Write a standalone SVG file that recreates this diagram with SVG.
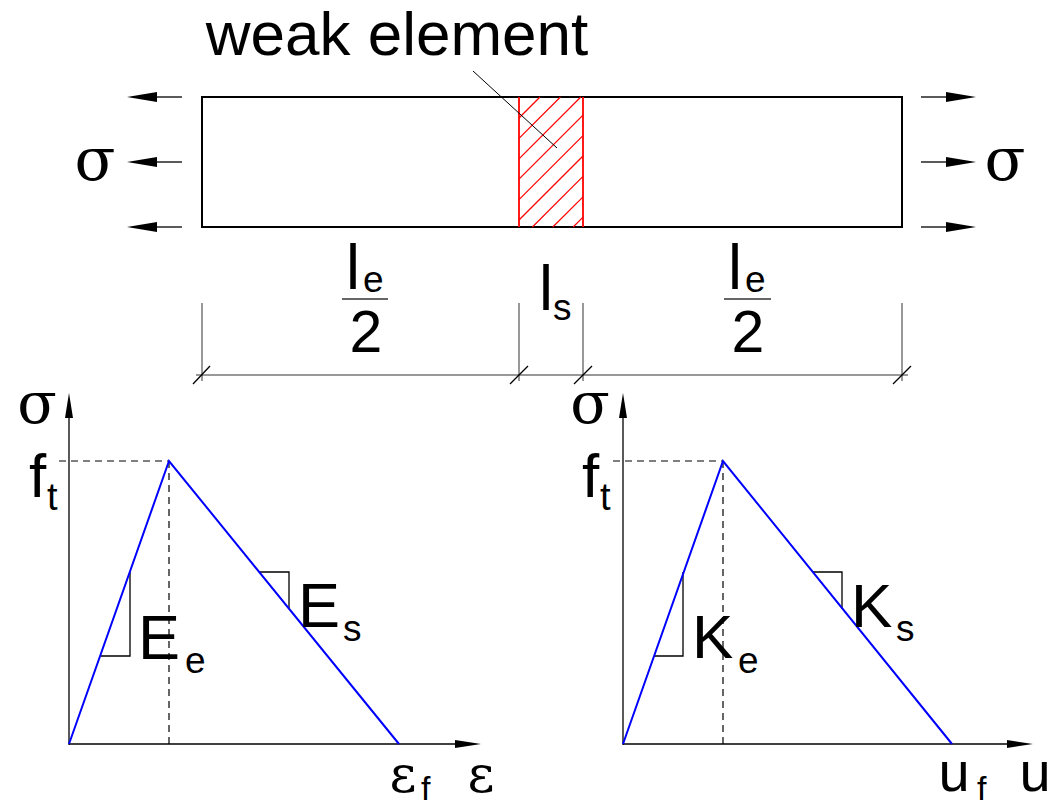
<svg xmlns="http://www.w3.org/2000/svg" width="1055" height="808" viewBox="0 0 1055 808">
<style>
.t{font-family:"Liberation Sans",Arial,sans-serif;fill:#000}
.g{font-family:"DejaVu Serif","Liberation Serif",serif;fill:#000}
.ln{stroke:#000;stroke-width:1.3;fill:none}
.thin{stroke:#333;stroke-width:1;fill:none}
.dash{stroke:#000;stroke-width:1.2;stroke-dasharray:7 5;fill:none}
.blue{stroke:#0000ff;stroke-width:2;fill:none}
.hatch{stroke:#ff0000;stroke-width:1.2;fill:none}
.ah{fill:#000;stroke:none}
</style>
<rect width="1055" height="808" fill="#fff"/>

<g id="bar">
  <rect x="202" y="97" width="700" height="130" fill="none" stroke="#000" stroke-width="2"/>
</g>

<g id="weak-element">
  <g class="hatch">
    <line x1="519" y1="118" x2="540" y2="97"/>
    <line x1="519" y1="138.4" x2="560.4" y2="97"/>
    <line x1="519" y1="158.8" x2="580.8" y2="97"/>
    <line x1="519" y1="179.2" x2="583" y2="115.2"/>
    <line x1="519" y1="199.6" x2="583" y2="135.6"/>
    <line x1="519" y1="220" x2="583" y2="156"/>
    <line x1="532.4" y1="227" x2="583" y2="176.4"/>
    <line x1="552.8" y1="227" x2="583" y2="196.8"/>
    <line x1="573.2" y1="227" x2="583" y2="217.2"/>
  </g>
  <line x1="519" y1="97" x2="519" y2="227" stroke="#ff0000" stroke-width="1.8"/>
  <line x1="583" y1="97" x2="583" y2="227" stroke="#ff0000" stroke-width="1.8"/>
  <line x1="473" y1="71" x2="557" y2="148" stroke="#000" stroke-width="1"/>
  <text class="t" x="397" y="55" font-size="62" text-anchor="middle">weak element</text>
</g>

<g id="loads">
  <g class="ln">
    <line x1="182" y1="97" x2="150" y2="97"/>
    <line x1="182" y1="162" x2="150" y2="162"/>
    <line x1="182" y1="227" x2="150" y2="227"/>
    <line x1="921" y1="97" x2="952" y2="97"/>
    <line x1="921" y1="162" x2="952" y2="162"/>
    <line x1="921" y1="227" x2="952" y2="227"/>
  </g>
  <polygon class="ah" points="127,97 157,92 157,102"/>
  <polygon class="ah" points="127,162 157,157 157,167"/>
  <polygon class="ah" points="127,227 157,222 157,232"/>
  <polygon class="ah" points="976,97 946,92 946,102"/>
  <polygon class="ah" points="976,162 946,157 946,167"/>
  <polygon class="ah" points="976,227 946,222 946,232"/>
  <text class="g" x="95" y="180" font-size="60" text-anchor="middle">σ</text>
  <text class="g" x="1005" y="180" font-size="60" text-anchor="middle">σ</text>
</g>

<g id="dimensions">
  <g class="thin">
    <line x1="202" y1="303" x2="202" y2="381"/>
    <line x1="519" y1="303" x2="519" y2="381"/>
    <line x1="583" y1="303" x2="583" y2="381"/>
    <line x1="902" y1="303" x2="902" y2="381"/>
    <line x1="196" y1="375" x2="908" y2="375"/>
  </g>
  <g class="ln">
    <line x1="193" y1="384" x2="210" y2="366"/>
    <line x1="510" y1="384" x2="528" y2="366"/>
    <line x1="574" y1="384" x2="592" y2="366"/>
    <line x1="893" y1="384" x2="911" y2="366"/>
  </g>
  <text class="t" x="346" y="289" font-size="63">l</text>
  <text class="t" x="363" y="292" font-size="37">e</text>
  <line x1="342" y1="299" x2="388" y2="299" stroke="#333" stroke-width="1.3"/>
  <text class="t" x="366" y="352" font-size="59" text-anchor="middle">2</text>

  <text class="t" x="539" y="310" font-size="63">l</text>
  <text class="t" x="553" y="320" font-size="37">s</text>

  <text class="t" x="728" y="289" font-size="63">l</text>
  <text class="t" x="745" y="292" font-size="37">e</text>
  <line x1="724" y1="299" x2="771" y2="299" stroke="#333" stroke-width="1.3"/>
  <text class="t" x="748" y="352" font-size="59" text-anchor="middle">2</text>
</g>

<g id="graph-strain">
  <line class="ln" x1="69" y1="745" x2="69" y2="415"/>
  <polygon class="ah" points="69,393 65,418 73,418"/>
  <line class="ln" x1="69" y1="744" x2="458" y2="744"/>
  <polygon class="ah" points="481,744 455,740 455,748"/>
  <line class="dash" x1="59" y1="461" x2="169" y2="461"/>
  <line class="dash" x1="169" y1="461" x2="169" y2="744"/>
  <polyline class="ln" points="101,656 130,656 130,572" stroke-width="1"/>
  <polyline class="ln" points="259,572 289,572 289,608" stroke-width="1"/>
  <polyline class="blue" points="69,744 169,461 399,744"/>
  <text class="g" x="37" y="423" font-size="58" text-anchor="middle">σ</text>
  <text class="t" x="29" y="497" font-size="62">f</text>
  <text class="t" x="47" y="510" font-size="38">t</text>
  <text class="t" x="138" y="659" font-size="63">E</text>
  <text class="t" x="185" y="673" font-size="37">e</text>
  <text class="t" x="298" y="627" font-size="63">E</text>
  <text class="t" x="343" y="641" font-size="37">s</text>
  <text class="g" x="403" y="792" font-size="52" text-anchor="middle">ε</text>
  <text class="t" x="421" y="800" font-size="34">f</text>
  <text class="g" x="481" y="792" font-size="52" text-anchor="middle">ε</text>
</g>

<g id="graph-displacement">
  <line class="ln" x1="623" y1="745" x2="623" y2="415"/>
  <polygon class="ah" points="623,393 619,418 627,418"/>
  <line class="ln" x1="623" y1="744" x2="1010" y2="744"/>
  <polygon class="ah" points="1033,744 1007,740 1007,748"/>
  <line class="dash" x1="613" y1="461" x2="723" y2="461"/>
  <line class="dash" x1="723" y1="461" x2="723" y2="744"/>
  <polyline class="ln" points="654,656 683,656 683,572" stroke-width="1"/>
  <polyline class="ln" points="813,572 842,572 842,609" stroke-width="1"/>
  <polyline class="blue" points="623,744 723,461 952,744"/>
  <text class="g" x="590" y="423" font-size="58" text-anchor="middle">σ</text>
  <text class="t" x="582" y="497" font-size="62">f</text>
  <text class="t" x="600" y="510" font-size="38">t</text>
  <text class="t" x="692" y="658" font-size="62">K</text>
  <text class="t" x="738" y="673" font-size="37">e</text>
  <text class="t" x="851" y="627" font-size="62">K</text>
  <text class="t" x="896" y="641" font-size="37">s</text>
  <text class="t" x="954" y="791" font-size="56" text-anchor="middle">u</text>
  <text class="t" x="977" y="800" font-size="34">f</text>
  <text class="t" x="1035" y="791" font-size="56" text-anchor="middle">u</text>
</g>
</svg>
